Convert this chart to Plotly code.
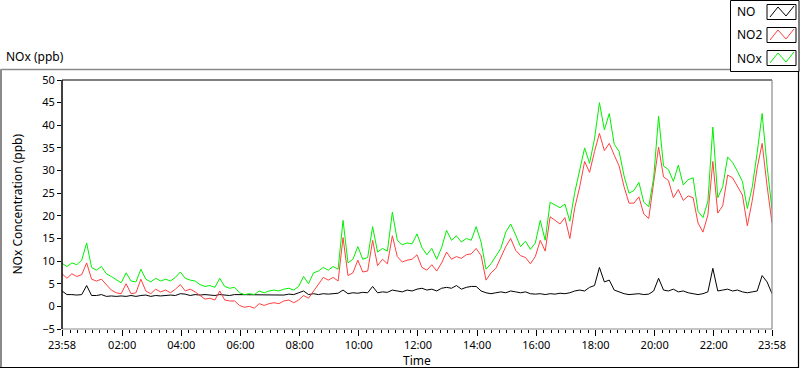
import pandas as pd
import plotly.graph_objects as go

# ---------------- data (10-minute samples, 23:58 -> 23:58 next day) ----------------
start_time = "2021-01-01 23:58"
end_time = "2021-01-02 23:58"
n_points = 145
sample_freq = "10min"

no_ppb = [3.4, 2.6, 2.6, 2.5, 2.6, 4.6, 2.4, 2.4, 2.6, 2.2,
          2.3, 2.2, 2.3, 2.2, 2.4, 2.2, 2.4, 2.5, 2.2, 2.4,
          2.3, 2.4, 2.5, 2.4, 2.8, 2.7, 2.4, 2.6, 2.5, 2.6,
          2.5, 2.4, 2.6, 2.5, 2.4, 2.6, 2.6, 2.5, 2.6, 2.5,
          2.5, 2.6, 2.5, 2.6, 2.6, 2.5, 2.7, 2.6, 3.0, 3.4,
          2.6, 2.8, 2.6, 2.8, 2.7, 2.8, 2.9, 3.6, 2.8, 3.0,
          2.9, 3.1, 3.0, 4.4, 3.0, 3.2, 3.1, 3.6, 3.4, 3.2,
          3.6, 3.4, 3.8, 4.0, 3.6, 3.8, 3.4, 4.0, 4.2, 4.0,
          4.6, 3.8, 4.2, 4.4, 4.4, 3.4, 3.0, 2.8, 3.0, 3.2,
          3.0, 3.4, 3.2, 3.0, 3.2, 2.8, 2.7, 2.8, 2.6, 2.8,
          2.7, 2.9, 2.8, 3.0, 3.4, 3.6, 3.4, 4.2, 4.6, 8.6,
          5.4, 5.8, 3.6, 3.2, 2.8, 2.6, 2.7, 2.8, 2.6, 2.7,
          3.4, 6.2, 3.6, 3.4, 3.8, 3.2, 3.4, 3.0, 2.8, 2.6,
          2.8, 3.2, 8.4, 3.4, 3.6, 3.8, 3.4, 3.6, 3.2, 3.0,
          3.2, 3.4, 6.8, 5.4, 2.8]

no2_ppb = [7.2, 6.2, 7.2, 6.6, 7.0, 9.6, 6.0, 5.6, 6.0, 4.8,
           3.6, 3.0, 2.8, 5.0, 2.8, 3.0, 6.0, 3.4, 2.8, 3.8,
           3.2, 3.6, 3.0, 3.8, 4.8, 3.4, 3.8, 3.2, 2.4, 1.6,
           1.8, 1.4, 3.4, 1.4, 1.2, 1.2, 0.2, -0.2, 0.0, -0.4,
           0.6, 0.2, 0.6, 0.8, 0.6, 1.2, 1.4, 0.8, 1.4, 2.4,
           1.8, 3.4, 4.8, 6.4, 5.8, 6.4, 5.6, 15.2, 6.8, 7.4,
           10.2, 7.6, 7.8, 14.6, 9.0, 10.4, 9.4, 15.6, 11.0, 9.8,
           10.2, 10.4, 11.4, 8.6, 8.0, 9.2, 7.8, 9.6, 12.0, 10.4,
           11.0, 10.6, 11.4, 11.6, 12.8, 11.2, 5.8, 7.4, 8.4, 10.8,
           13.2, 15.0, 12.4, 11.2, 10.8, 9.4, 11.0, 14.6, 12.2, 19.8,
           19.0, 18.2, 19.6, 15.0, 21.8, 26.4, 32.0, 29.6, 34.2, 38.2,
           34.4, 36.0, 33.4, 31.0, 26.4, 22.8, 22.8, 24.2, 20.4, 19.4,
           27.4, 35.2, 28.6, 27.8, 24.0, 25.8, 23.4, 24.4, 24.0, 18.4,
           16.4, 20.2, 32.0, 20.6, 22.2, 29.0, 28.4, 26.4, 24.6, 17.8,
           23.4, 30.6, 36.0, 26.6, 18.4]

nox_ppb = [9.5, 8.8, 9.6, 9.2, 10.2, 14.0, 8.6, 8.0, 8.8, 7.2,
           6.6, 5.8, 5.2, 7.4, 5.6, 5.4, 8.2, 6.0, 5.4, 6.2,
           5.6, 6.0, 5.6, 6.4, 7.6, 6.2, 5.8, 5.6, 4.8, 4.4,
           4.6, 4.2, 6.2, 4.4, 4.0, 4.2, 3.0, 2.6, 2.8, 2.6,
           3.4, 3.0, 3.4, 3.6, 3.4, 3.8, 4.0, 3.6, 4.4, 6.6,
           5.0, 7.4, 7.8, 8.6, 8.0, 8.8, 8.2, 19.0, 9.6, 10.4,
           13.2, 10.4, 10.8, 17.6, 12.0, 12.8, 12.2, 20.8, 14.6, 13.6,
           14.0, 13.8, 16.0, 13.0, 11.4, 12.8, 10.4, 13.0, 16.8, 14.6,
           15.6, 14.2, 15.0, 14.6, 17.6, 14.2, 8.2, 9.4, 11.0, 12.8,
           16.4, 18.2, 15.8, 13.2, 14.4, 12.6, 14.0, 19.0, 14.6, 23.0,
           22.4, 21.8, 22.6, 18.8, 25.2, 29.8, 35.0, 31.6, 37.0, 45.0,
           39.0, 42.6, 35.8, 34.2, 28.8, 25.0, 25.6, 27.4, 23.0, 22.0,
           28.4, 42.0, 31.0, 30.2, 27.6, 31.2, 26.8, 28.0, 28.4, 21.0,
           19.6, 23.2, 39.6, 24.0, 26.4, 33.0, 31.8, 29.8, 27.6, 21.6,
           26.4, 34.0, 42.6, 31.0, 21.4]

series_names = ["NO", "NO2", "NOx"]
series_colors = ["#000000", "#ff4040", "#00f000"]

major_tick_times = ["2021-01-01 23:58", "2021-01-02 02:00", "2021-01-02 04:00",
                    "2021-01-02 06:00", "2021-01-02 08:00", "2021-01-02 10:00",
                    "2021-01-02 12:00", "2021-01-02 14:00", "2021-01-02 16:00",
                    "2021-01-02 18:00", "2021-01-02 20:00", "2021-01-02 22:00",
                    "2021-01-02 23:58"]
major_tick_labels = ["23:58", "02:00", "04:00", "06:00", "08:00", "10:00", "12:00",
                     "14:00", "16:00", "18:00", "20:00", "22:00", "23:58"]

y_range = [-5, 50]
y_step = 5

# ---------------- layout geometry ----------------
W, H = 800, 369
L, R, T, B = 62, 28, 80, 40
PW, PH = W - L - R, H - T - B
FONT = "Noto Sans"
TXT = dict(family=FONT, size=12, color="#000000")


def px(xp):
    return (xp - L) / PW


def py(yp):
    return (H - B - yp) / PH


times = pd.date_range(start_time, periods=n_points, freq=sample_freq)
values = [no_ppb, no2_ppb, nox_ppb]

fig = go.Figure()
for name, color, vals in zip(series_names, series_colors, values):
    fig.add_trace(go.Scatter(x=times, y=vals, name=name, mode="lines",
                             line=dict(color=color, width=1), showlegend=False,
                             hoverinfo="skip"))

shapes = []
# outer frame
shapes.append(dict(type="line", xref="paper", yref="paper", x0=px(0.5), x1=px(730), y0=py(69.5), y1=py(69.5),
                   line=dict(color="#8a8a8a", width=1.5)))
shapes.append(dict(type="line", xref="paper", yref="paper", x0=px(1), x1=px(1), y0=py(69.5), y1=py(368),
                   line=dict(color="#8a8a8a", width=2)))
shapes.append(dict(type="line", xref="paper", yref="paper", x0=px(0), x1=px(799), y0=py(367.5), y1=py(367.5),
                   line=dict(color="#000000", width=1.2)))
shapes.append(dict(type="line", xref="paper", yref="paper", x0=px(798.5), x1=px(798.5), y0=py(69), y1=py(368),
                   line=dict(color="#000000", width=1.2)))
# plot area border
shapes.append(dict(type="line", xref="paper", yref="paper", x0=0, x1=1, y0=1, y1=1,
                   line=dict(color="#000000", width=1.2)))
shapes.append(dict(type="line", xref="paper", yref="paper", x0=1, x1=1, y0=0, y1=1,
                   line=dict(color="#8a8a8a", width=1.2)))
shapes.append(dict(type="line", xref="paper", yref="paper", x0=0, x1=1, y0=0, y1=0,
                   line=dict(color="#8a8a8a", width=1.2)))
shapes.append(dict(type="line", xref="paper", yref="paper", x0=0, x1=0, y0=0, y1=1,
                   line=dict(color="#000000", width=1.5)))

# custom legend (text left, zigzag icon right)
shapes.append(dict(type="rect", xref="paper", yref="paper", x0=px(730.5), x1=px(799), y0=py(0.5), y1=py(71.5),
                   line=dict(color="#000000", width=1), fillcolor="#ffffff", layer="above"))
annotations = []
row_centers = [12, 35, 58]
for name, color, yc in zip(series_names, series_colors, row_centers):
    annotations.append(dict(text=name, xref="paper", yref="paper", x=px(735), y=py(yc),
                            xanchor="left", yanchor="middle", showarrow=False, font=TXT))
    shapes.append(dict(type="rect", xref="paper", yref="paper", x0=px(767), x1=px(796),
                       y0=py(yc - 7.5), y1=py(yc + 7.5),
                       line=dict(color="#000000", width=1), fillcolor="#ffffff", layer="above"))
    zz = [(770, yc + 5), (778, yc - 5), (786, yc + 4), (794, yc - 6)]
    path = "M " + " L ".join(f"{px(a):.5f},{py(b):.5f}" for a, b in zz)
    shapes.append(dict(type="path", xref="paper", yref="paper", path=path,
                       line=dict(color=color, width=1), layer="above"))

annotations.append(dict(text="NOx (ppb)", xref="paper", yref="paper", x=px(4), y=py(57),
                        xanchor="left", yanchor="middle", showarrow=False, font=TXT))
# axis titles
annotations.append(dict(text="Time", xref="paper", yref="paper", x=0.5, y=py(360),
                        xanchor="center", yanchor="middle", showarrow=False, font=TXT))
annotations.append(dict(text="NOx Concentration (ppb)", xref="paper", yref="paper", x=px(17), y=0.5,
                        xanchor="center", yanchor="middle", textangle=-90, showarrow=False, font=TXT))

tickfont = dict(family=FONT, size=11, color="#000000")
fig.update_layout(
    width=W, height=H, autosize=False,
    margin=dict(l=L, r=R, t=T, b=B, pad=0),
    paper_bgcolor="#ffffff", plot_bgcolor="#ffffff",
    font=dict(family=FONT, size=11, color="#000000"),
    shapes=shapes, annotations=annotations, showlegend=False, hovermode=False,
    xaxis=dict(type="date", range=[start_time, end_time], showgrid=False, zeroline=False,
               showline=False, automargin=False, tickmode="array",
               tickvals=major_tick_times, ticktext=major_tick_labels,
               ticks="outside", ticklen=6, tickwidth=1, tickcolor="#000000", tickfont=tickfont,
               minor=dict(ticks="outside", ticklen=3, tickwidth=1, tickcolor="#000000",
                          tick0="2021-01-02 00:00", dtick=15 * 60 * 1000)),
    yaxis=dict(range=y_range, dtick=y_step, tick0=0, showgrid=False, zeroline=False, showline=False,
               automargin=False, ticks="outside", ticklen=4, tickwidth=1, tickcolor="#000000",
               tickfont=tickfont),
)

fig.write_html("out.html", config={"displayModeBar": False},
               post_script="document.body.style.margin='0';")
